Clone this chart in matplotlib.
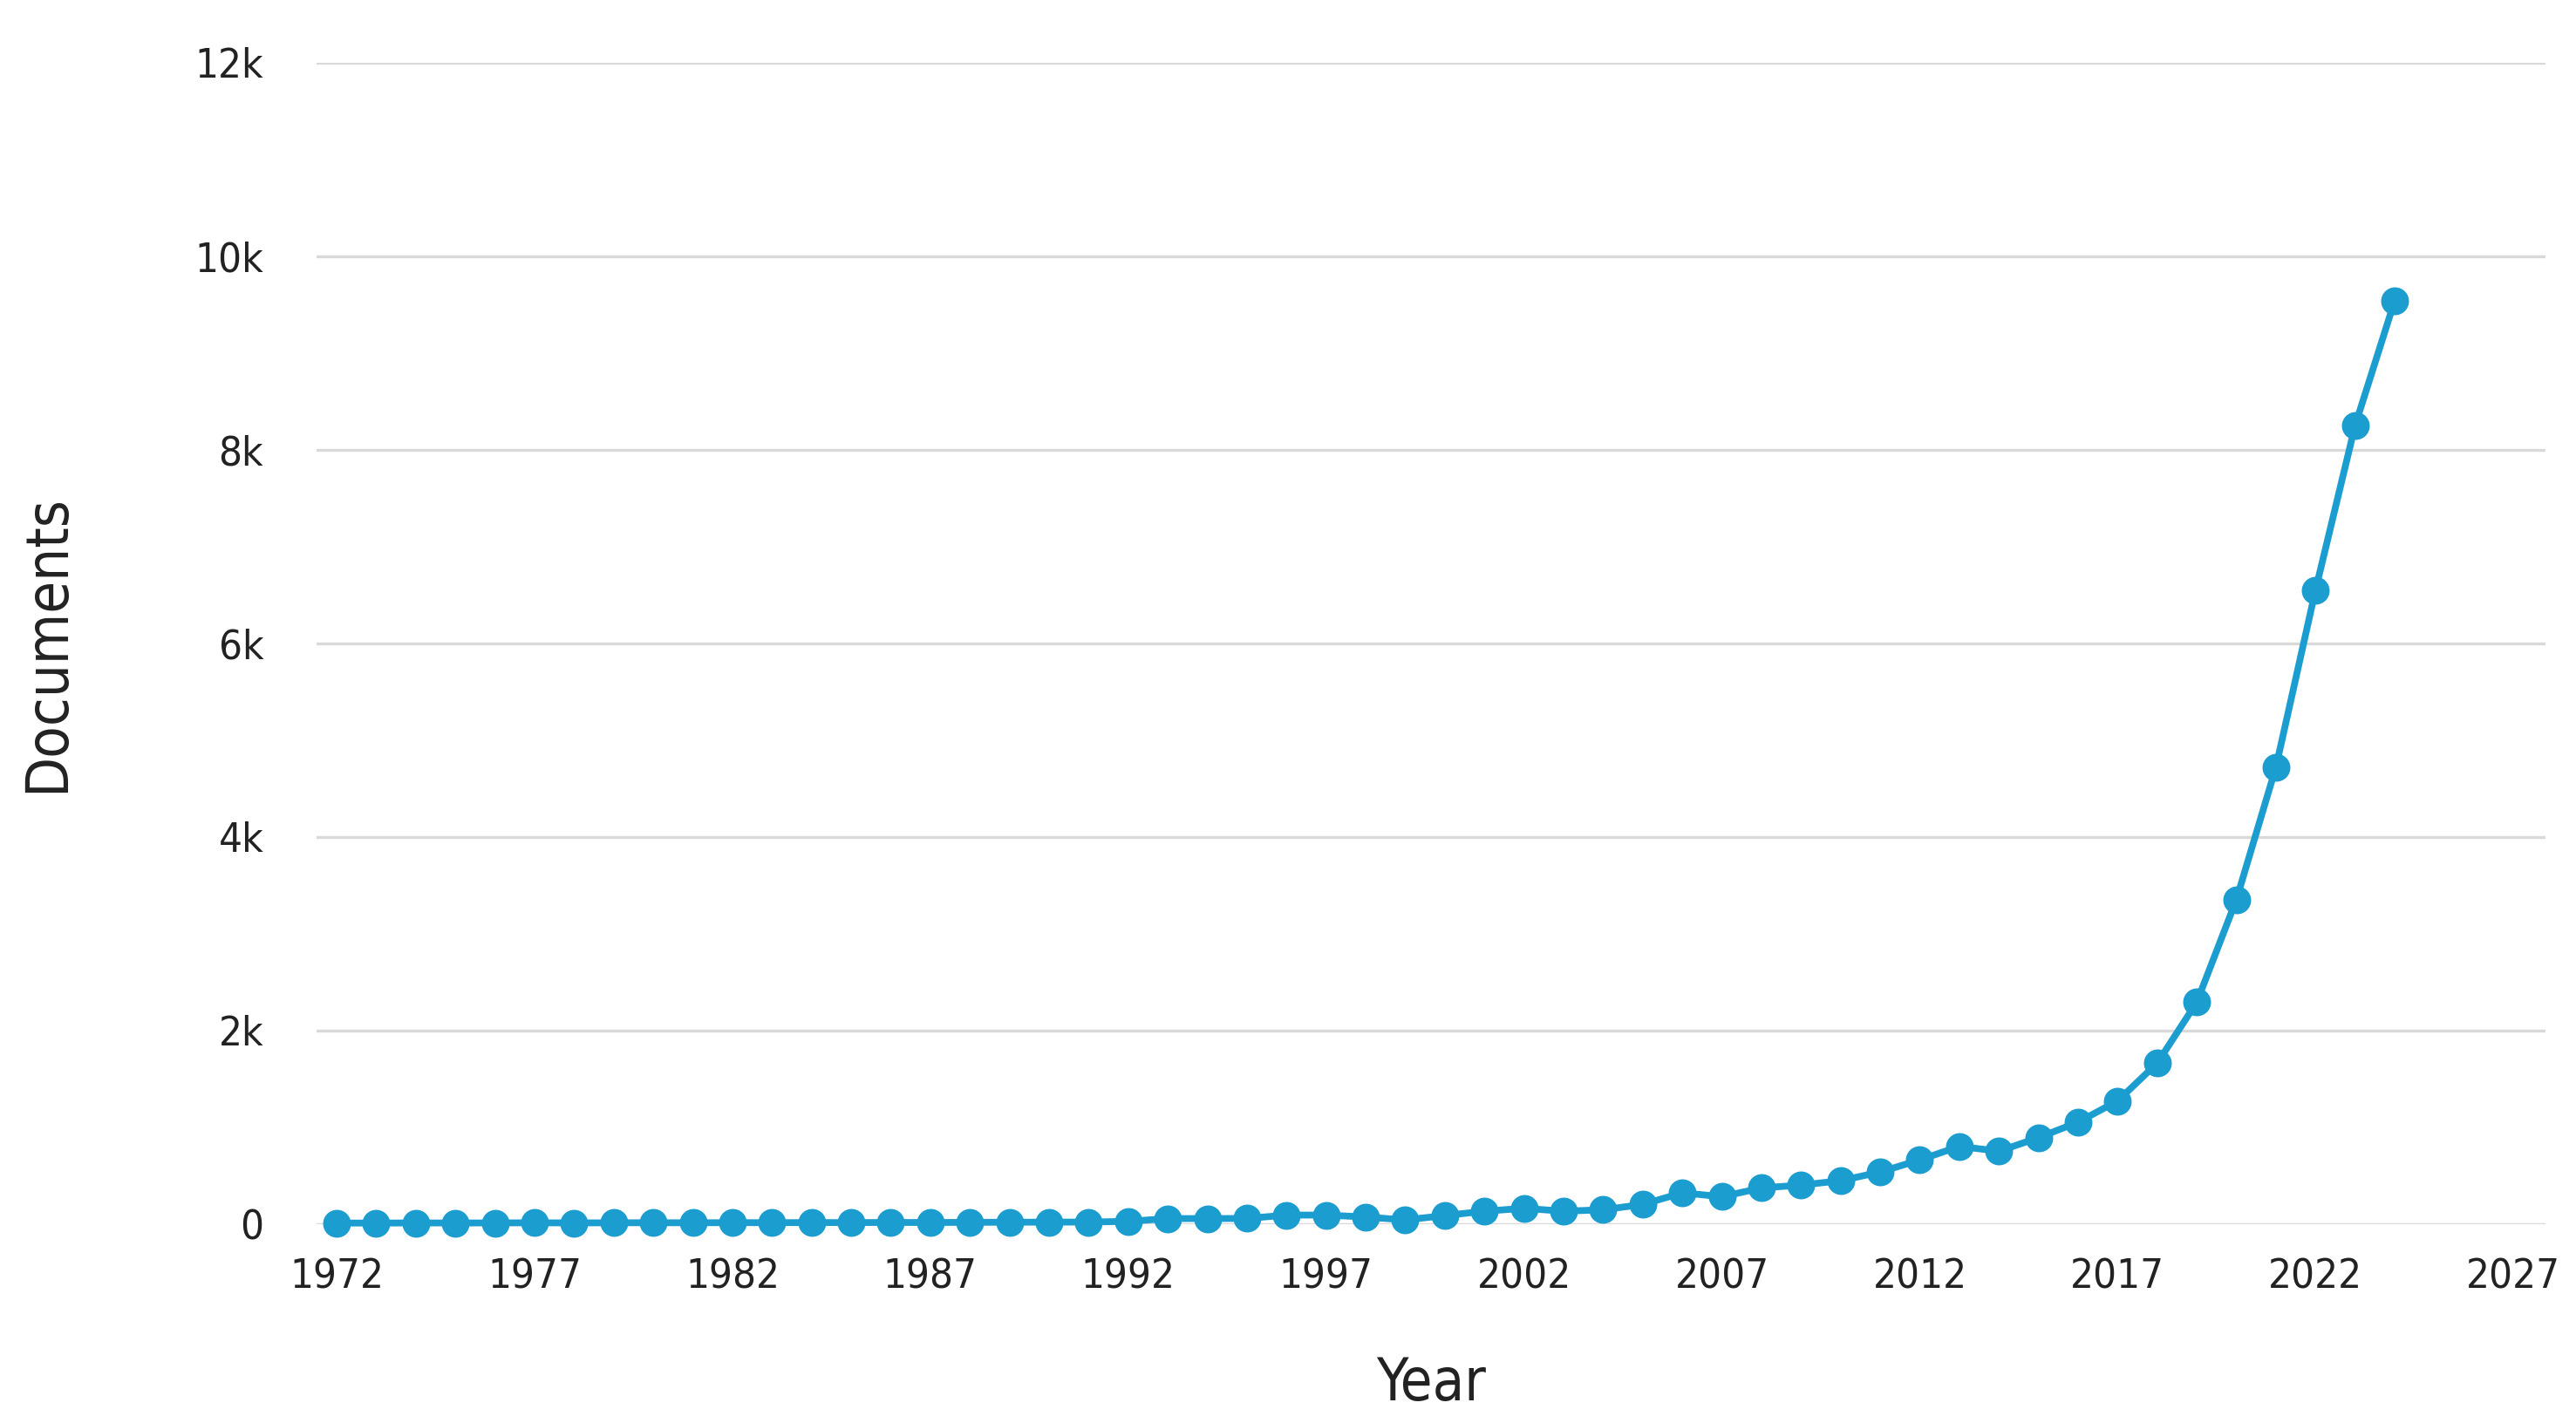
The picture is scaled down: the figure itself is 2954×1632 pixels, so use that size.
import matplotlib
matplotlib.use('Agg')
import matplotlib.pyplot as plt
from matplotlib.ticker import FuncFormatter

# documents per year
years = list(range(1972, 2025))
documents = [
    8, 7, 9, 8, 9, 10, 9, 10, 11, 10,          # 1972-1981
    12, 11, 13, 12, 14, 13, 15, 16, 17, 18,    # 1982-1991
    25, 54, 54, 55, 90, 90, 70, 40, 85, 130,   # 1992-2001
    160, 130, 145, 200, 320, 280, 370, 400, 445, 535,  # 2002-2011
    660, 800, 750, 890, 1050, 1270, 1660, 2290, 3350, 4720,  # 2012-2021
    6550, 8250, 9540,                           # 2022-2024
]
x_ticks = list(range(1972, 2028, 5))
y_ticks = [0, 2000, 4000, 6000, 8000, 10000, 12000]

line_color = "#1c9dd0"

plt.rcParams['font.family'] = ['DejaVu Sans']
plt.rcParams['font.stretch'] = 'condensed'

fig = plt.figure(figsize=(14.77, 8.16), dpi=200)
ax = fig.add_axes([0.123, 0.140, 0.865, 0.816])

ax.plot(years, documents, color=line_color, linewidth=2.8,
        marker="o", markersize=10.5, clip_on=False, zorder=3)

ax.set_xlim(1971.5, 2027.8)
ax.set_ylim(0, 12000)
ax.set_xticks(x_ticks)
ax.set_yticks(y_ticks)
ax.yaxis.set_major_formatter(FuncFormatter(lambda v, p: "0" if v == 0 else f"{int(v / 1000)}k"))

ax.grid(axis="y", color="#d9d9d9", linewidth=1.2)
ax.set_axisbelow(True)
for s in ax.spines.values():
    s.set_visible(False)
ax.tick_params(axis="both", length=0, labelsize=17, colors="#222222")
ax.tick_params(axis="y", pad=22)
ax.tick_params(axis="x", pad=14)

ax.set_xlabel("Year", fontsize=24, color="#222222")
ax.set_ylabel("Documents", fontsize=24, color="#222222")
ax.xaxis.set_label_coords(0.5, -0.113)
ax.yaxis.set_label_coords(-0.108, 0.5)

fig.savefig("out.png", dpi=200)
plt.close(fig)
